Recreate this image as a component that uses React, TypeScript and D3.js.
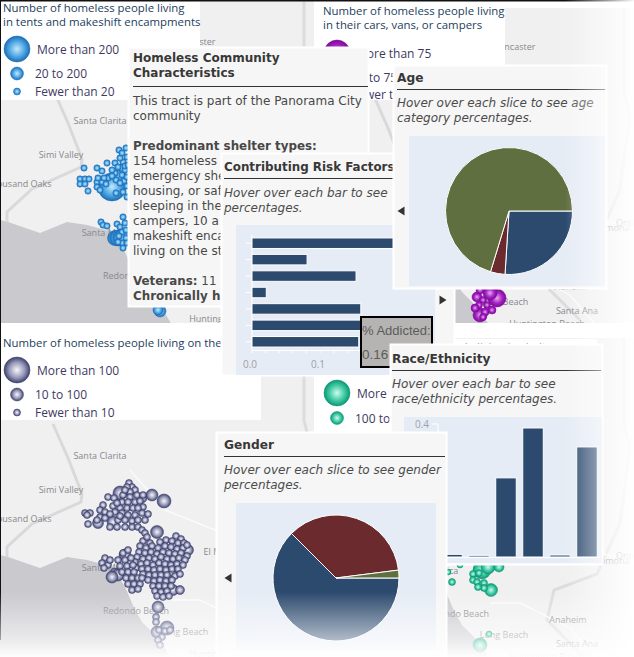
import React from "react";
import * as d3 from "d3";

type B = [number, number, number];

// ---------- data ----------
const riskLabels = ["Mental", "Physical", "Chronic", "Domestic", "Disabled", "Addicted", "Other"];
const riskValues = [0.26, 0.081, 0.153, 0.021, 0.16, 0.16, 0.157];
const raceLabels = ["Asian", "Pacific", "Black", "Hispanic", "Native", "White"];
const raceValues = [0.008, 0.005, 0.238, 0.388, 0.006, 0.331];
const ageValues = [0.26, 0.037, 0.703];
const genderValues = [0.625, 0.355, 0.02];

const blueLarge: B[] = [[112, 187, 14], [115, 238, 7.5], [118, 238, 8], [121, 238, 8], [124, 238, 7], [160, 311, 6], [158, 310, 5], [120, 175, 6], [123, 168, 5]];
const blueSmall: number[][] = [
  [84, 168], [97, 168], [102, 171], [107, 163], [119, 150], [126, 148], [115, 163], [123, 162], [118, 167], [125, 170],
  [115, 173], [122, 175], [127, 157], [120, 158], [112, 170], [108, 178], [116, 180], [124, 181], [127, 177], [116, 193],
  [123, 192], [127, 186], [80, 179], [85, 179], [89, 179], [80, 184], [85, 184], [88, 191], [97, 182], [102, 182],
  [97, 187], [100, 190], [104, 178], [98, 178], [106, 184], [101, 222], [103, 225], [107, 226], [117, 224], [123, 217],
  [120, 227], [125, 223], [122, 232], [126, 230], [122, 243], [123, 248], [118, 242], [126, 238], [127, 243], [119, 236],
  [125, 166], [120, 183], [127, 197], [112, 176], [122, 153], [128, 165]
];
const grayLarge: B[] = [
  [164, 501, 7], [152, 495, 6], [120, 493, 7], [157, 532, 6.5], [113, 522, 6], [98, 523, 5.5], [188, 550, 5.5],
  [173, 590, 5.5], [115, 573, 5], [118, 575, 6], [172, 572, 5], [158, 607, 6], [167, 628, 7], [157, 632, 6], [125, 555, 6],
  [133, 490, 4.5], [142, 498, 5], [180, 590, 4.5], [165, 593, 4], [112, 577, 6]
];
const graySmall: number[][] = [
  [129, 483], [132, 487], [127, 487], [135, 490], [130, 492], [123, 495], [137, 495], [130, 497], [143, 495], [108, 497],
  [114, 498], [122, 502], [128, 502], [135, 502], [140, 501], [113, 506], [120, 508], [127, 508], [133, 508], [143, 507],
  [103, 505], [100, 510], [105, 512], [115, 512], [122, 513], [128, 515], [135, 515], [142, 513], [100, 517], [105, 518],
  [118, 520], [125, 520], [132, 521], [138, 520], [145, 520], [85, 513], [90, 513], [88, 524], [97, 520], [117, 527],
  [125, 527], [132, 527], [138, 527], [142, 530], [145, 533], [87, 515], [176, 536], [181, 539], [110, 514], [117, 503],
  [125, 490], [110, 527], [138, 508], [120, 516], [148, 514],
  [143, 541], [150, 543], [166, 540], [172, 541], [178, 543], [184, 543], [160, 542], [147, 537],
  [140, 546], [146, 548], [152, 546], [158, 548], [165, 546], [171, 547], [177, 549], [183, 548], [187, 545],
  [139, 552], [145, 553], [151, 552], [157, 554], [163, 552], [169, 553], [175, 554], [181, 553], [187, 556],
  [137, 557], [143, 559], [149, 558], [155, 559], [161, 557], [167, 559], [173, 559], [179, 558], [185, 560],
  [135, 562], [141, 564], [147, 563], [153, 565], [159, 563], [165, 564], [171, 565], [177, 564], [183, 565],
  [136, 568], [142, 569], [148, 569], [154, 570], [160, 569], [166, 570], [172, 569], [178, 569], [130, 562],
  [143, 574], [149, 575], [155, 575], [161, 575], [167, 575], [175, 576], [180, 574],
  [105, 558], [102, 563], [108, 565], [104, 568], [110, 560], [123, 553], [128, 550], [118, 560], [125, 560], [131, 558],
  [120, 566], [127, 566], [133, 565], [122, 572], [128, 572], [134, 572], [126, 578], [132, 578], [138, 578], [128, 584],
  [134, 584], [140, 584], [132, 590], [138, 589], [142, 578],
  [148, 580], [154, 581], [160, 580], [166, 581], [172, 580], [153, 586], [159, 586], [165, 586], [171, 586],
  [155, 591], [161, 592], [167, 591], [157, 596], [163, 597], [169, 596],
  [156, 617], [156, 622], [159, 630], [165, 631], [170, 630], [162, 637], [158, 640], [160, 645]
];
const purpleBubbles: B[] = [
  [497, 298, 9], [490, 293, 7], [480, 315, 7], [477, 297, 5], [480, 290, 4], [483, 300, 3.5], [487, 305, 3.5],
  [479, 305, 3.5], [485, 312, 4], [492, 310, 4], [475, 308, 4], [483, 317, 3.5]
];
const tealBubbles: B[] = [
  [482, 570, 9], [491, 590, 6.5], [488, 567, 7], [499, 567, 5], [473, 574, 3.5], [479, 573, 3.5], [473, 580, 3.5],
  [477, 582, 3.5], [484, 583, 3.5], [484, 588, 3.5], [478, 587, 3.5], [452, 582, 3.5], [448, 572, 3], [460, 565, 3],
  [489, 634, 3], [480, 645, 7]
];
const mapLabels: [string, number, number][] = [
  ["Santa Clarita", 100, 459], ["Simi Valley", 61, 493], ["Thousand Oaks", 19, 522], ["Santa Monica", 110, 571],
  ["Redondo Beach", 136, 614], ["El Monte", 222, 555], ["Long Beach", 184, 635], ["Anaheim", 248, 620],
  ["Santa Ana", 257, 644], ["Lancaster", 195, 380], ["Pomona", 292, 561], ["Ontario", 312, 556], ["Huntington Beach", 227, 657]
];
const legendTop = ["Number of homeless people living", "in tents and makeshift encampments"];
const legendCars = ["Number of homeless people living", "in their cars, vans, or campers"];
const charBody: [string, number, boolean][] = [
  ["This tract is part of the Panorama City", 105, false], ["community", 120, false],
  ["Predominant shelter types:", 150, true], ["154 homeless", 165, false], ["emergency she", 180, false],
  ["housing, or saf", 195, false], ["sleeping in the", 210, false], ["campers, 10 a", 225, false],
  ["makeshift enca", 240, false], ["living on the st", 255, false], ["Chronically h", 300, true]
];

// ---------- palette ----------
const NAVY = "#2c4a6e", RED = "#6b2a2d", GREEN = "#606f40";
const FONT = "'DejaVu Sans', Verdana, sans-serif";
const LEGEND_FONT = "'Open Sans', sans-serif";
const grads: [string, string, string, string][] = [
  ["gBlue", "#c4e8fb", "#4ea6e4", "#1c6db6"],
  ["gGray", "#f7f7fb", "#9799b8", "#3d416c"],
  ["gPurple", "#e6aaf0", "#a622c4", "#7c0a98"],
  ["gTeal", "#cffbec", "#3fcaa2", "#0d9676"]
];
const rims: Record<string, string> = { gBlue: "#1c6db6", gGray: "#3d416c", gPurple: "#7c0a98", gTeal: "#0d9676" };

const Bubble = ({ x, y, r, g }: { x: number; y: number; r: number; g: string }) => (
  <circle cx={x} cy={y} r={r} fill={`url(#${g})`} stroke={rims[g]} strokeWidth={0.5} />
);

const MapBase = ({ ox, oy, clipId, x, y, w, h }: { ox: number; oy: number; clipId: string; x: number; y: number; w: number; h: number }) => {
  const mx = d3.scaleLinear().domain([0, 320]).range([ox, ox + 320]);
  const my = d3.scaleLinear().domain([335, 657]).range([335 + oy, 657 + oy]);
  const line = d3.line<number[]>().x(d => mx(d[0])).y(d => my(d[1]));
  const ocean = [[0, 555], [8, 557], [40, 568], [67, 557], [87, 560], [113, 567], [125, 587], [135, 610], [142, 622], [160, 640], [172, 660], [0, 660]];
  const county = [[53, 424], [68, 458], [82, 494], [81, 502], [32, 524], [7, 547], [7, 557]];
  const east = [[304, 335], [304, 420], [310, 445], [300, 520], [277, 571], [234, 587], [227, 617], [260, 650]];
  const road = [[130, 470], [165, 510], [190, 520], [240, 540], [320, 560]];
  const road2 = [[170, 600], [200, 600], [250, 625], [280, 660]];
  return (
    <g>
      <clipPath id={clipId}><rect x={x} y={y} width={w} height={h} /></clipPath>
      <g clipPath={`url(#${clipId})`}>
        <rect x={x} y={y} width={w} height={h} fill="#f0f0f1" />
        <path d={line(ocean) + "Z"} fill="#c9c9ce" />
        <path d={line(county)!} fill="none" stroke="#d9d9db" strokeWidth={3} />
        <path d={line(east)!} fill="none" stroke="#dcdcde" strokeWidth={3} />
        <path d={line(road)!} fill="none" stroke="#fafafa" strokeWidth={1.5} />
        <path d={line(road2)!} fill="none" stroke="#fafafa" strokeWidth={1.5} />
        {mapLabels.map(([t, a, b]) => (
          <text key={t} x={mx(a)} y={my(b)} textAnchor="middle" fontFamily={LEGEND_FONT} fontSize={9} fill="#88888c">{t}</text>
        ))}
      </g>
    </g>
  );
};

const Legend = ({ x, y, w, h, title, grad, rows, tx }: { x: number; y: number; w: number; h: number; title: string[]; grad: string; rows: [number, number, string, number][]; tx: number }) => (
  <g fontFamily={LEGEND_FONT}>
    <rect x={x} y={y} width={w} height={h} fill="#fff" />
    {title.map((t, i) => <text key={i} x={tx} y={y + 12 + i * 14} fontSize={11.4} fill="#24405e">{t}</text>)}
    {rows.map(([cy, r, t, lx]) => (
      <g key={t}>
        <Bubble x={tx + 14} y={cy} r={r} g={grad} />
        <text x={lx} y={cy + 4.5} fontSize={12} fill="#3d3a62">{t}</text>
      </g>
    ))}
  </g>
);

const Panel = ({ x, y, w, h, title, rule, hover, titleSize = 12.2 }: { x: number; y: number; w: number; h: number; title: string; rule: [number, number, number]; hover: [string, number][]; titleSize?: number }) => (
  <g fontFamily={FONT}>
    <rect x={x + 0.5} y={y + 0.5} width={w} height={h} fill="#f6f6f6" stroke="#fff" strokeWidth={2} />
    <text x={rule[0]} y={rule[2] - 8} fontSize={titleSize} fontWeight={700} fill="#383838">{title}</text>
    <line x1={rule[0]} x2={rule[1]} y1={rule[2]} y2={rule[2]} stroke="#333" />
    {hover.map(([t, yy]) => <text key={t} x={rule[0]} y={yy} fontSize={12} fontStyle="italic" fill="#4c4c4c">{t}</text>)}
  </g>
);

const Arrow = ({ x, y, dir }: { x: number; y: number; dir: number }) => (
  <path d={`M${x - 3.5 * dir},${y - 4.5}L${x + 3.5 * dir},${y}L${x - 3.5 * dir},${y + 4.5}Z`} fill="#333" />
);

const Pie = ({ cx, cy, r, values, colors }: { cx: number; cy: number; r: number; values: number[]; colors: string[] }) => {
  const arcs = d3.pie<number>().sort(null).startAngle(Math.PI / 2).endAngle(Math.PI / 2 + 2 * Math.PI)(values);
  const arc = d3.arc<d3.PieArcDatum<number>>().innerRadius(0).outerRadius(r);
  return (
    <g transform={`translate(${cx},${cy})`}>
      {arcs.map((a, i) => <path key={i} d={arc(a)!} fill={colors[i]} stroke="#fff" strokeWidth={1} />)}
    </g>
  );
};

export default function App() {
  const riskX = d3.scaleLinear().domain([0, 0.3]).range([252, 456]);
  const riskY = d3.scaleBand<string>().domain(riskLabels).range([235, 350]).paddingInner(0.36).paddingOuter(0.18);
  const raceX = d3.scaleBand<string>().domain(raceLabels).range([438.5, 600.5]).paddingInner(0.24).paddingOuter(0.12);
  const raceY = d3.scaleLinear().domain([0, 0.4]).range([557, 424]);

  return (
    <svg width={634} height={657} style={{ position: "fixed", left: 0, top: 0, background: "#fff" }}>
      <defs>
        {grads.map(([id, a, b, c]) => (
          <radialGradient id={id} key={id}>
            <stop offset="0%" stopColor={a} />
            <stop offset="60%" stopColor={b} />
            <stop offset="100%" stopColor={c} />
          </radialGradient>
        ))}
        <linearGradient id="fadeB" x1="0" x2="0" y1="0" y2="1">
          <stop offset="0%" stopColor="#fff" stopOpacity={0} />
          <stop offset="74%" stopColor="#fff" stopOpacity={0.62} />
          <stop offset="100%" stopColor="#fff" stopOpacity={0.97} />
        </linearGradient>
        <linearGradient id="fadeR" x1="0" x2="1" y1="0" y2="0">
          <stop offset="0%" stopColor="#fff" stopOpacity={0} />
          <stop offset="100%" stopColor="#fff" stopOpacity={0.97} />
        </linearGradient>
      </defs>

      {/* maps */}
      <MapBase ox={0} oy={-335} clipId="m1" x={0} y={0} w={314} h={323} />
      <MapBase ox={320} oy={-330} clipId="m2" x={322} y={8} w={312} h={315} />
      <MapBase ox={0} oy={0} clipId="m3" x={0} y={335} w={314} h={322} />
      <MapBase ox={320} oy={3} clipId="m4" x={322} y={338} w={312} h={319} />

      {blueLarge.map((b, i) => <Bubble key={i} x={b[0]} y={b[1]} r={b[2]} g="gBlue" />)}
      {blueSmall.map((b, i) => <Bubble key={i} x={b[0]} y={b[1]} r={3.2} g="gBlue" />)}
      {grayLarge.map((b, i) => <Bubble key={i} x={b[0]} y={b[1]} r={b[2]} g="gGray" />)}
      {graySmall.map((b, i) => <Bubble key={i} x={b[0]} y={b[1]} r={3.5} g="gGray" />)}
      {purpleBubbles.map((b, i) => <Bubble key={i} x={b[0]} y={b[1]} r={b[2]} g="gPurple" />)}
      {tealBubbles.map((b, i) => <Bubble key={i} x={b[0]} y={b[1]} r={b[2]} g="gTeal" />)}

      {/* legends */}
      <Legend x={0} y={0} w={200} h={100} tx={3} title={legendTop} grad="gBlue"
        rows={[[49, 13, "More than 200", 37], [73.5, 6.5, "20 to 200", 35], [91.5, 3.5, "Fewer than 20", 35]]} />
      <Legend x={322} y={3} w={183} h={97} tx={323} title={legendCars} grad="gPurple"
        rows={[[53, 13, "More than 75", 356], [77, 6.5, "20 to 75", 352], [94, 3.5, "Fewer than 20", 352]]} />
      <Legend x={0} y={335} w={261} h={85} tx={3} title={["Number of homeless people living on the streets"]} grad="gGray"
        rows={[[370, 13, "More than 100", 37], [394.5, 6.5, "10 to 100", 35], [412.5, 3.5, "Fewer than 10", 35]]} />
      <Legend x={322} y={339} w={275} h={100} tx={323} title={["Number of homeless people living in shelters"]} grad="gTeal"
        rows={[[393, 13, "More than 500", 357], [418, 6.5, "100 to 500", 355], [436, 3.5, "Fewer than 100", 355]]} />

      {/* characteristics panel */}
      <g fontFamily={FONT}>
        <rect x={128.5} y={47.5} width={240} height={259} fill="#f6f6f6" stroke="#fff" strokeWidth={2} />
        <text x={133} y={62} fontSize={12} fontWeight={700} fill="#383838">Homeless Community</text>
        <text x={133} y={77} fontSize={12} fontWeight={700} fill="#383838">Characteristics</text>
        <line x1={133} x2={368} y1={86.5} y2={86.5} stroke="#333" />
        {charBody.map(([t, y, b]) => (
          <text key={t} x={133} y={y} fontSize={b ? 11.9 : 12} fontWeight={b ? 700 : 400} fill="#484848">{t}</text>
        ))}
        <text x={133} y={285} fontSize={11.9} fill="#484848"><tspan fontWeight={700}>Veterans:</tspan>  11</text>
      </g>

      {/* risk factors */}
      <Panel x={221} y={153} w={233} h={222} title="Contributing Risk Factors" titleSize={11.9} rule={[224, 454, 178.5]}
        hover={[["Hover over each bar to see", 197], ["percentages.", 212]]} />
      <rect x={236} y={225} width={199} height={150} fill="#e6ecf5" />
      <line x1={252} x2={252} y1={235} y2={350} stroke="#fff" />
      <line x1={252} x2={435} y1={350.5} y2={350.5} stroke="#fff" />
      {riskX.ticks(15).map(t => <line key={t} x1={riskX(t)} x2={riskX(t)} y1={350} y2={353} stroke="#fff" />)}
      {riskLabels.map(l => <line key={l} x1={246} x2={252} y1={riskY(l)! + riskY.bandwidth() / 2} y2={riskY(l)! + riskY.bandwidth() / 2} stroke="#fff" />)}
      {riskLabels.map((l, i) => (
        <rect key={l} x={riskX(0)} y={riskY(l)} width={riskX(riskValues[i]) - riskX(0)} height={riskY.bandwidth()} fill={NAVY} stroke="#fff" />
      ))}
      {[0, 0.1, 0.2].map(t => (
        <text key={t} x={riskX(t) - 2} y={368} textAnchor="middle" fontFamily={LEGEND_FONT} fontSize={10} fill="#a0a0a6">{d3.format(".1f")(t)}</text>
      ))}
      <Arrow x={443} y={300} dir={1} />
      <rect x={361} y={317} width={71} height={50} fill="#b5b4b2" stroke="#000" strokeWidth={2} />
      <text x={362} y={335} fontFamily="'Liberation Sans', sans-serif" fontSize={13} fill="#5c5c5c">% Addicted:</text>
      <text x={362} y={359} fontFamily="'Liberation Sans', sans-serif" fontSize={13.5} fill="#5c5c5c">0.16</text>

      {/* age */}
      <Panel x={393} y={65} w={213} h={223} title="Age" rule={[397, 605, 89.5]}
        hover={[["Hover over each slice to see age", 107], ["category percentages.", 122]]} />
      <rect x={409} y={136} width={196} height={150} fill="#e6ecf5" />
      <Pie cx={509} cy={211} r={63.5} values={ageValues} colors={[NAVY, RED, GREEN]} />
      <Arrow x={401} y={211} dir={-1} />

      {/* race */}
      <Panel x={390} y={344} w={212} h={220} title="Race/Ethnicity" rule={[392, 601, 370.5]}
        hover={[["Hover over each bar to see", 388], ["race/ethnicity percentages.", 403]]} />
      <rect x={404} y={417} width={198} height={146} fill="#e6ecf5" />
      <line x1={438} x2={438} y1={424} y2={557} stroke="#fff" />
      <line x1={438} x2={600} y1={557.5} y2={557.5} stroke="#fff" />
      {raceY.ticks(4).map(t => <line key={t} x1={432} x2={438} y1={raceY(t)} y2={raceY(t)} stroke="#fff" />)}
      {raceY.ticks(4).map(t => (
        <text key={t} x={429} y={raceY(t) + 3.5} textAnchor="end" fontFamily={LEGEND_FONT} fontSize={10} fill="#a0a0a6">{d3.format(".1f")(t)}</text>
      ))}
      {raceLabels.map((l, i) => (
        <rect key={l} x={raceX(l)} y={raceY(raceValues[i])} width={raceX.bandwidth()} height={raceY(0) - raceY(raceValues[i])} fill={NAVY} stroke="#fff" />
      ))}

      {/* gender */}
      <Panel x={216} y={432} w={230} h={225} title="Gender" rule={[224, 445, 456.5]}
        hover={[["Hover over each slice to see gender", 474], ["percentages.", 489]]} />
      <rect x={236} y={503} width={200} height={147} fill="#e6ecf5" />
      <Pie cx={336} cy={578} r={63} values={genderValues} colors={[NAVY, RED, GREEN]} />
      <Arrow x={228} y={578} dir={-1} />

      {/* page edges and fades */}
      <rect x={0} y={0} width={1} height={640} fill="#111" />
      <rect x={0} y={0} width={634} height={1.5} fill="#111" />
      <rect x={0} y={592} width={634} height={65} fill="url(#fadeB)" />
      <rect x={565} y={0} width={69} height={657} fill="url(#fadeR)" />
    </svg>
  );
}
